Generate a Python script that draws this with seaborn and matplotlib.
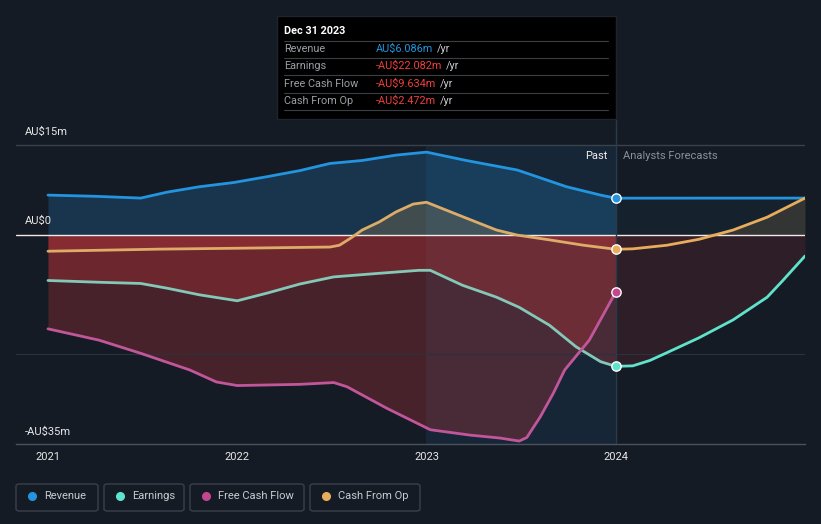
import numpy as np
import matplotlib
matplotlib.use("Agg")
import matplotlib.pyplot as plt
import seaborn as sns
from matplotlib.patches import Rectangle, FancyBboxPatch
from matplotlib.lines import Line2D

# values in AU$ millions, x in decimal years
rev_past_x = [2021.0, 2021.25, 2021.49, 2021.63, 2021.80, 2021.98, 2022.16, 2022.33, 2022.49, 2022.66,
              2022.84, 2023.0, 2023.21, 2023.48, 2023.74, 2023.92, 2024.0]
rev_past_y = [6.6, 6.4, 6.1, 7.1, 8.0, 8.7, 9.7, 10.7, 11.9, 12.4,
              13.3, 13.8, 12.4, 10.8, 8.0, 6.6, 6.086]
rev_fc_x = [2024.0, 2025.0]
rev_fc_y = [6.086, 6.1]

earn_past_x = [2021.0, 2021.27, 2021.49, 2021.63, 2021.80, 2022.0, 2022.16, 2022.33, 2022.51, 2022.75,
               2022.96, 2023.02, 2023.19, 2023.37, 2023.49, 2023.65, 2023.79, 2023.92, 2024.0]
earn_past_y = [-7.7, -8.0, -8.2, -9.0, -10.1, -11.1, -9.8, -8.3, -7.1, -6.5,
               -6.0, -6.0, -8.5, -10.5, -12.2, -15.2, -18.8, -21.3, -22.082]
earn_fc_x = [2024.0, 2024.09, 2024.18, 2024.27, 2024.44, 2024.62, 2024.80, 2024.88, 2025.0]
earn_fc_y = [-22.082, -22.0, -21.1, -19.8, -17.3, -14.3, -10.5, -7.8, -3.6]

fcf_past_x = [2021.0, 2021.27, 2021.49, 2021.75, 2021.89, 2022.0, 2022.33, 2022.51, 2022.58, 2022.79,
              2023.02, 2023.23, 2023.39, 2023.49, 2023.53, 2023.60, 2023.67, 2023.73, 2023.86, 2024.0]
fcf_past_y = [-15.8, -17.7, -19.9, -22.7, -24.7, -25.3, -25.1, -24.8, -25.5, -29.1,
              -32.7, -33.6, -34.1, -34.6, -34.0, -30.6, -26.6, -22.7, -17.7, -9.634]

cfo_past_x = [2021.0, 2021.59, 2022.0, 2022.49, 2022.54, 2022.60, 2022.66, 2022.75, 2022.84, 2022.93,
              2023.0, 2023.19, 2023.37, 2023.48, 2023.65, 2023.83, 2024.0]
cfo_past_y = [-2.8, -2.45, -2.3, -2.1, -1.8, -0.6, 0.75, 2.1, 3.8, 5.1,
              5.4, 3.0, 0.75, -0.1, -0.9, -1.8, -2.472]
cfo_fc_x = [2024.0, 2024.09, 2024.27, 2024.44, 2024.62, 2024.80, 2025.0]
cfo_fc_y = [-2.472, -2.4, -1.8, -0.8, 0.75, 2.9, 6.1]

year_ticks = [2021, 2022, 2023, 2024]
legend_names = ["Revenue", "Earnings", "Free Cash Flow", "Cash From Op"]
tooltip_date = "Dec 31 2023"
tooltip_values = ["AU$6.086m", "-AU$22.082m", "-AU$9.634m", "-AU$2.472m"]

BG = "#151b24"
C_REV = "#2394df"
C_EARN = "#5fe3cc"
C_FCF = "#c4478d"
C_CFO = "#e8ad5c"
C_NEG = "#c0353a"

sns.set_theme(style="dark")
plt.rcParams["font.family"] = ["Roboto", "DejaVu Sans"]

W, H = 821, 524
fig = plt.figure(figsize=(W / 100, H / 100), dpi=100)
fig.patch.set_facecolor(BG)


def fx(px):
    return px / W


def fy(py):
    return 1 - py / H


ax = fig.add_axes([fx(16), fy(444), fx(805) - fx(16), fy(120) - fy(444)])
ax.set_facecolor(BG)
ax.set_xlim(2021 - 32 / 189.33, 2025)
ax.set_ylim(-35.09, 19.18)

# highlighted last-year band
ax.fill_between([2023, 2024], -35.09, 15, color="#1d5a8a", alpha=0.18, lw=0, zorder=1)

# area fills
ax.fill_between(rev_past_x, rev_past_y, 0, color=C_REV, alpha=0.22, lw=0, zorder=2)
ax.fill_between(rev_fc_x, rev_fc_y, 0, color=C_REV, alpha=0.06, lw=0, zorder=2)
for xs, ys, a in [(earn_past_x, earn_past_y, 0.3), (fcf_past_x, fcf_past_y, 0.3),
                  (cfo_past_x, cfo_past_y, 0.3), (earn_fc_x, earn_fc_y, 0.14),
                  (cfo_fc_x, cfo_fc_y, 0.08)]:
    ys = np.minimum(np.array(ys), 0)
    ax.fill_between(xs, ys, 0, color=C_NEG, alpha=a, lw=0, zorder=2)
for xs, ys, a in [(cfo_past_x, cfo_past_y, 0.2), (cfo_fc_x, cfo_fc_y, 0.14)]:
    ys = np.maximum(np.array(ys), 0)
    ax.fill_between(xs, ys, 0, color=C_CFO, alpha=a, lw=0, zorder=2)

# grid lines
ax.axhline(15, color="#39414d", lw=1, zorder=3)
ax.axhline(-20, color="#2b323d", lw=0.8, zorder=3)
ax.axhline(0, color="#f2e8e8", lw=1, zorder=3)
ax.plot([2024, 2024], [-35.09, 19.18], color="#2a3a4c", lw=1, zorder=3)

# lines
lw = 2.0
kw = dict(ax=ax, lw=lw, sort=False, estimator=None, zorder=5)
sns.lineplot(x=rev_past_x, y=rev_past_y, color=C_REV, **kw)
sns.lineplot(x=rev_fc_x, y=rev_fc_y, color=C_REV, **kw)
sns.lineplot(x=cfo_past_x, y=cfo_past_y, color="#dcac68", **kw)
sns.lineplot(x=cfo_fc_x, y=cfo_fc_y, color=C_CFO, **kw)
sns.lineplot(x=earn_past_x, y=earn_past_y, color="#84c8b8", **kw)
sns.lineplot(x=earn_fc_x, y=earn_fc_y, color=C_EARN, **kw)
sns.lineplot(x=fcf_past_x, y=fcf_past_y, color="#c2569a", **kw)

for val, c in [(rev_past_y[-1], C_REV), (earn_past_y[-1], C_EARN),
               (fcf_past_y[-1], C_FCF), (cfo_past_y[-1], C_CFO)]:
    ax.scatter([2024], [val], s=45, color=c, edgecolor="white", linewidth=1, zorder=7)

# axes styling
for s in ["top", "right", "left"]:
    ax.spines[s].set_visible(False)
ax.spines["bottom"].set_color("#4a525e")
ax.spines["bottom"].set_linewidth(1)
ax.set_xticks(year_ticks)
ax.set_xticklabels([str(y) for y in year_ticks])
ax.set_yticks([])
ax.tick_params(axis="x", colors="#4a525e", length=4, width=1, pad=2,
               labelcolor="#e8e8e8", labelsize=8)
ax.grid(False)
ax.set_xlabel("")
ax.set_ylabel("")

# y labels
for txt, py in [("AU$15m", 132), ("AU$0", 221), ("-AU$35m", 432)]:
    fig.text(fx(25), fy(py), txt, color="#e8e8e8", fontsize=8, va="center", ha="left")

fig.text(fx(607), fy(156), "Past", color="#f0f0f0", fontsize=8, va="center", ha="right")
fig.text(fx(623), fy(156), "Analysts Forecasts", color="#8a9099", fontsize=8, va="center", ha="left")

# tooltip
fig.patches.append(Rectangle((fx(277), fy(119)), fx(616) - fx(277), fy(16) - fy(119),
                             transform=fig.transFigure, facecolor="#000000",
                             edgecolor="#1e242c", lw=1, zorder=10))
fig.text(fx(284), fy(31), tooltip_date, color="white", fontsize=7.8, fontweight="bold",
         va="center", ha="left", zorder=11)
for py in [41, 58, 75, 93, 110]:
    fig.add_artist(Line2D([fx(284), fx(608)], [fy(py), fy(py)], color="#3a3f46", lw=0.8,
                          transform=fig.transFigure, zorder=11))
renderer = fig.canvas.get_renderer()
row_y = [49, 66, 84, 101]
for i, (name, val) in enumerate(zip(legend_names, tooltip_values)):
    fig.text(fx(284), fy(row_y[i]), name, color="#9a9fa6", fontsize=7.8, va="center",
             ha="left", zorder=11)
    vc = C_REV if i == 0 else "#f0403c"
    t = fig.text(fx(376), fy(row_y[i]), val, color=vc, fontsize=7.8, va="center",
                 ha="left", zorder=11)
    bb = t.get_window_extent(renderer)
    fig.text((bb.x1 + 4) / W, fy(row_y[i]), "/yr", color="#c8ccd0", fontsize=7.8,
             va="center", ha="left", zorder=11)

# legend boxes
leg_boxes = [(16, 98), (104, 184), (190, 304), (310, 420)]
leg_colors = [C_REV, C_EARN, C_FCF, C_CFO]
for (x0, x1), name, c in zip(leg_boxes, legend_names, leg_colors):
    fig.patches.append(FancyBboxPatch((fx(x0), fy(511)), fx(x1) - fx(x0), fy(484) - fy(511),
                                      boxstyle="round,pad=0,rounding_size=0.004",
                                      transform=fig.transFigure, facecolor=BG,
                                      edgecolor="#3a414c", lw=1))
    fig.add_artist(Line2D([fx(x0 + 16)], [fy(496)], marker="o", markersize=5.5, color=c,
                          ls="", transform=fig.transFigure))
    fig.text(fx(x0 + 28), fy(496), name, color="#c8ccd0", fontsize=8, va="center", ha="left")

fig.savefig("out.png", dpi=100, facecolor=BG)
